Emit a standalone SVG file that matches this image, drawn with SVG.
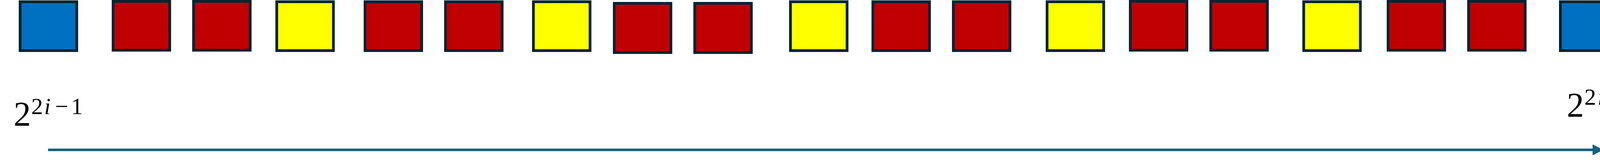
<svg xmlns="http://www.w3.org/2000/svg" width="4187" height="412" viewBox="0 0 4187 412">
<style>
.box{stroke:#042433;stroke-width:7}
.blue{fill:#0070C0}
.red{fill:#C00000}
.yellow{fill:#FFFF00}
.math{font-family:"Liberation Serif","DejaVu Serif",serif;fill:#000}
.conn{stroke:#156082;stroke-width:6.5;fill:none}
</style>
<defs>
<marker id="arrow" markerUnits="userSpaceOnUse" markerWidth="28" markerHeight="28" viewBox="0 0 28 28" refX="1" refY="14" orient="auto">
<path d="M0,0 L28,14 L0,28 z" fill="#156082"/>
</marker>
</defs>
<rect width="4187" height="412" fill="#FFFFFF"/>
<g id="nodes">
<g id="n1"><rect class="box blue" x="51.5" y="4.5" width="145" height="125"/></g>
<g id="n2"><rect class="box red" x="289.5" y="3.5" width="145" height="125"/></g>
<g id="n3"><rect class="box red" x="495.5" y="3.5" width="145" height="125"/></g>
<g id="n4"><rect class="box yellow" x="708.5" y="4.5" width="145" height="125"/></g>
<g id="n5"><rect class="box red" x="934.5" y="4.5" width="145" height="125"/></g>
<g id="n6"><rect class="box red" x="1140.5" y="4.5" width="145" height="125"/></g>
<g id="n7"><rect class="box yellow" x="1365.5" y="4.5" width="145" height="125"/></g>
<g id="n8"><rect class="box red" x="1572.5" y="8.5" width="145" height="126"/></g>
<g id="n9"><rect class="box red" x="1778.5" y="8.5" width="145" height="126"/></g>
<g id="n10"><rect class="box yellow" x="2023.5" y="4.5" width="145" height="125"/></g>
<g id="n11"><rect class="box red" x="2234.5" y="4.5" width="145" height="125"/></g>
<g id="n12"><rect class="box red" x="2440.5" y="4.5" width="145" height="125"/></g>
<g id="n13"><rect class="box yellow" x="2680.5" y="4.5" width="145" height="125"/></g>
<g id="n14"><rect class="box red" x="2893.5" y="3.5" width="145" height="125"/></g>
<g id="n15"><rect class="box red" x="3099.5" y="3.5" width="145" height="125"/></g>
<g id="n16"><rect class="box yellow" x="3337.5" y="4.5" width="145" height="125"/></g>
<g id="n17"><rect class="box red" x="3553.5" y="3.5" width="145" height="125"/></g>
<g id="n18"><rect class="box red" x="3759.5" y="3.5" width="145" height="125"/></g>
<g id="n19"><rect class="box blue" x="3994.5" y="4.5" width="145" height="125"/></g>
</g>
<g id="connectors">
<line class="conn" x1="123" y1="383.5" x2="4078" y2="383.5" marker-end="url(#arrow)"/>
</g>
<g id="labels">
<text id="label-start" class="math"><tspan x="35" y="321" font-size="88">2</tspan><tspan x="80" y="292" font-size="60">2</tspan><tspan x="113" y="292" font-size="60" font-style="italic">i</tspan><tspan x="141" y="292" font-size="60">−</tspan><tspan x="182" y="292" font-size="60">1</tspan></text>
<text id="label-end" class="math"><tspan x="4011" y="298" font-size="88">2</tspan><tspan x="4056" y="268" font-size="60">2</tspan><tspan x="4090" y="268" font-size="60" font-style="italic">i</tspan></text>
</g>
</svg>
